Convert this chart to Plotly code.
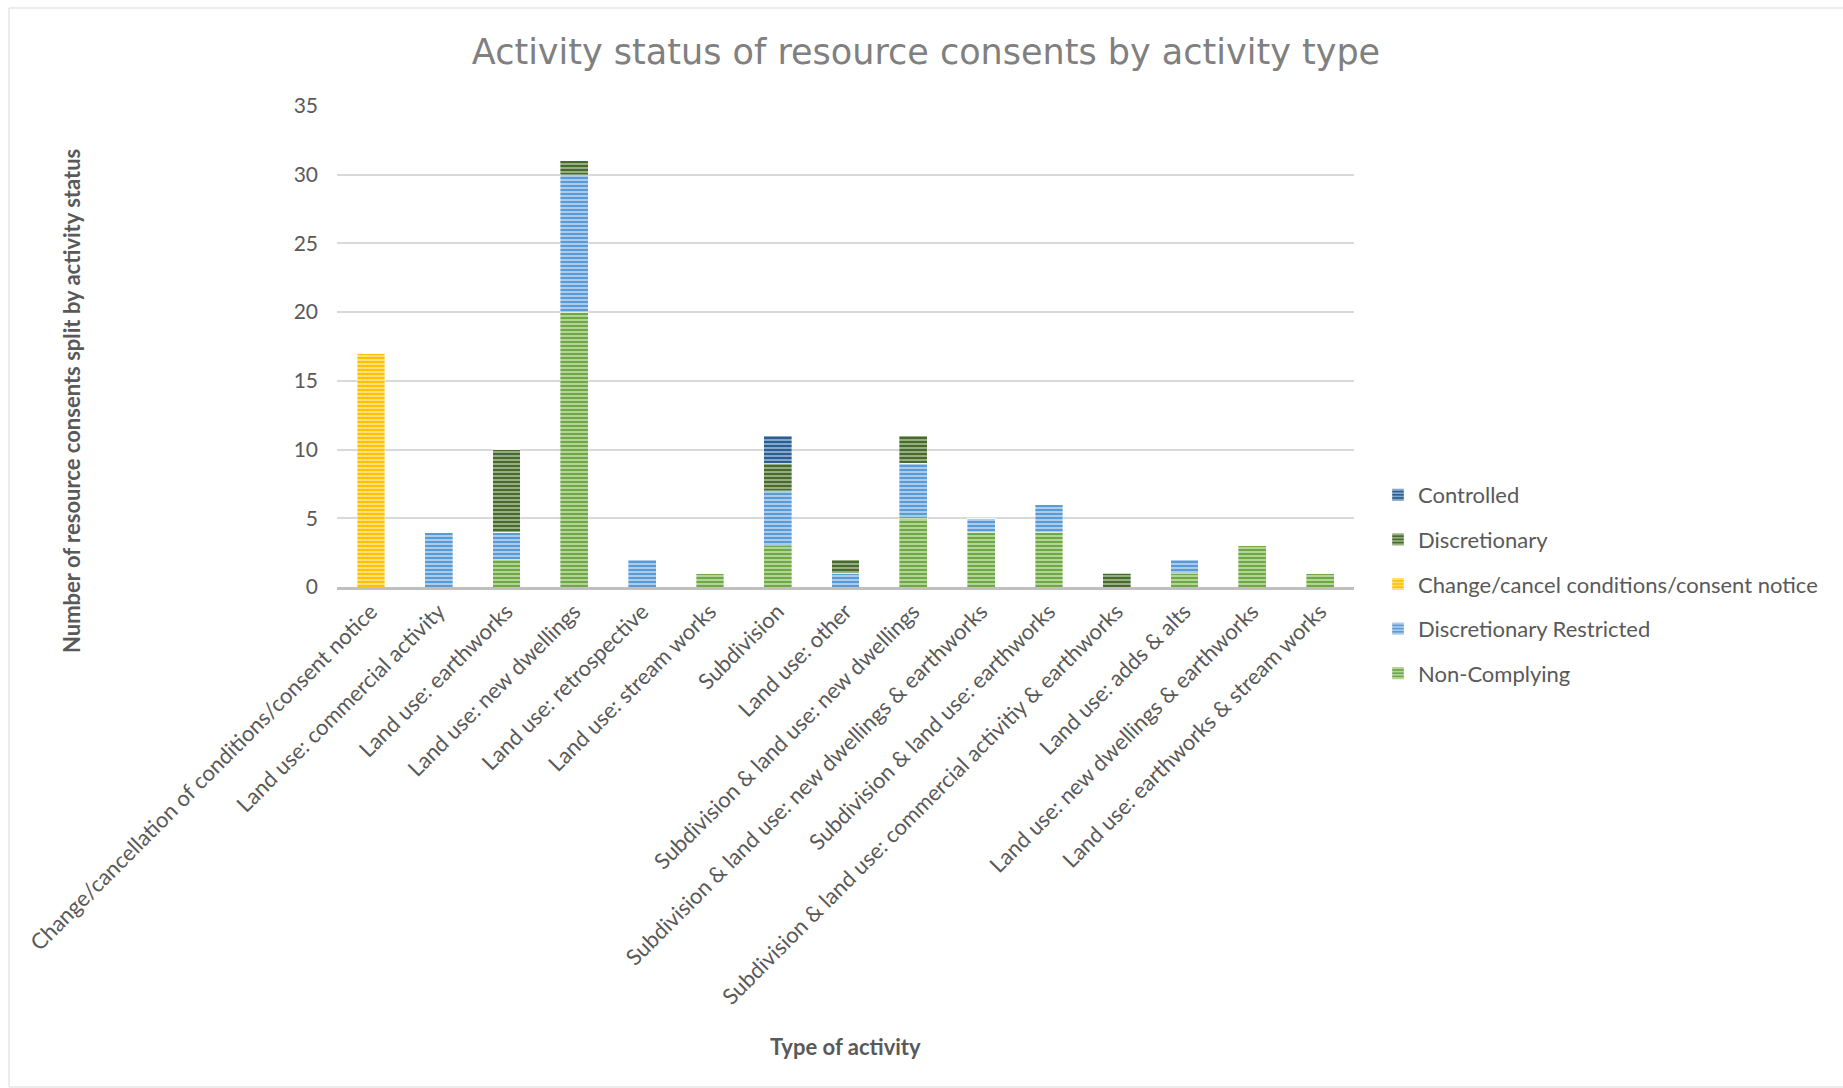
import plotly.graph_objects as go

# Activity types along the x axis
categories = [
    "Change/cancellation of conditions/consent notice",
    "Land use: commercial activity",
    "Land use: earthworks",
    "Land use: new dwellings",
    "Land use: retrospective",
    "Land use: stream works",
    "Subdivision",
    "Land use: other",
    "Subdivision & land use: new dwellings",
    "Subdivision & land use: new dwellings & earthworks",
    "Subdivision & land use: earthworks",
    "Subdivision & land use: commercial activitiy & earthworks",
    "Land use: adds & alts",
    "Land use: new dwellings & earthworks",
    "Land use: earthworks & stream works",
]

# Consent counts per activity status (stacked bottom to top)
non_complying = [0, 0, 2, 20, 0, 1, 3, 0, 5, 4, 4, 0, 1, 3, 1]
discretionary_restricted = [0, 4, 2, 10, 2, 0, 4, 1, 4, 1, 2, 0, 1, 0, 0]
change_cancel = [17, 0, 0, 0, 0, 0, 0, 0, 0, 0, 0, 0, 0, 0, 0]
discretionary = [0, 0, 6, 1, 0, 0, 2, 1, 2, 0, 0, 1, 0, 0, 0]
controlled = [0, 0, 0, 0, 0, 0, 2, 0, 0, 0, 0, 0, 0, 0, 0]

y_ticks = [0, 5, 10, 15, 20, 25, 30, 35]

series = [
    ("Non-Complying", non_complying, "#6fa845", "#b9d9a0"),
    ("Discretionary Restricted", discretionary_restricted, "#5b9bd5", "#b3d1ee"),
    ("Change/cancel conditions/consent notice", change_cancel, "#ffc000", "#ffe28a"),
    ("Discretionary", discretionary, "#466b2c", "#9fb58c"),
    ("Controlled", controlled, "#2c5f91", "#8eaed0"),
]

FONT = "Lato"
TEXT = "#595959"

fig = go.Figure()
for i, (name, vals, base, light) in enumerate(series):
    fig.add_trace(go.Bar(
        x=categories,
        y=vals,
        name=name,
        legendgroup=f"g{i}",
        legendrank=1000 - i,  # top of the stack listed first
        marker=dict(
            color=base,
            line=dict(width=0.6, color="rgba(255,255,255,0.6)"),
            pattern=dict(shape="-", fgcolor=light, bgcolor=base,
                         size=4, solidity=0.45, fillmode="replace"),
        ),
    ))

# plot area in pixels: x 337..1354, y 106..587
L, R, T, B = 337, 489, 106, 501
PW, PH = 1843 - L - R, 1088 - T - B


def px_x(p):
    return (p - L) / PW


def px_y(p):
    return (1088 - B - p) / PH


fig.update_layout(
    width=1843,
    height=1088,
    margin=dict(l=L, r=R, t=T, b=B),
    barmode="stack",
    bargap=0.59,
    paper_bgcolor="white",
    plot_bgcolor="white",
    font=dict(family=FONT, color=TEXT, size=22),
    title=dict(
        text="Activity status of resource consents by activity type",
        font=dict(family="DejaVu Sans", size=35, color="#808080"),
        x=926 / 1843, xanchor="center",
        y=1 - 52 / 1088, yanchor="middle",
    ),
    xaxis=dict(
        tickangle=-45,
        tickfont=dict(size=22, color=TEXT),
        showgrid=False,
        showline=True,
        linecolor="#bfbfbf",
        linewidth=3,
        ticks="",
    ),
    yaxis=dict(
        range=[0, 35],
        tickvals=y_ticks,
        tickfont=dict(size=21, color=TEXT),
        gridcolor="#d9d9d9",
        gridwidth=1.5,
        zeroline=False,
        showline=False,
        ticklabelstandoff=18,
    ),
    legend=dict(
        traceorder="grouped",
        x=px_x(1378), xanchor="left",
        y=px_y(474), yanchor="top",
        font=dict(size=22, color=TEXT),
        tracegroupgap=13,
        itemwidth=30,
        bgcolor="rgba(0,0,0,0)",
    ),
    showlegend=True,
)

# axis titles
fig.add_annotation(
    text="<b>Type of activity</b>", xref="paper", yref="paper",
    x=px_x(845), y=px_y(1046), xanchor="center", yanchor="middle",
    showarrow=False, font=dict(size=22, color=TEXT),
)
fig.add_annotation(
    text="<b>Number of resource consents split by activity status</b>",
    xref="paper", yref="paper",
    x=px_x(71), y=px_y(401), xanchor="center", yanchor="middle",
    textangle=-90, showarrow=False, font=dict(size=22, color=TEXT),
)

# chart area border
fig.add_shape(
    type="rect", xref="paper", yref="paper",
    x0=px_x(9), x1=px_x(1860), y0=px_y(1087), y1=px_y(8),
    line=dict(color="#d9d9d9", width=1), fillcolor="rgba(0,0,0,0)", layer="below",
)

fig.write_html("out.html")
